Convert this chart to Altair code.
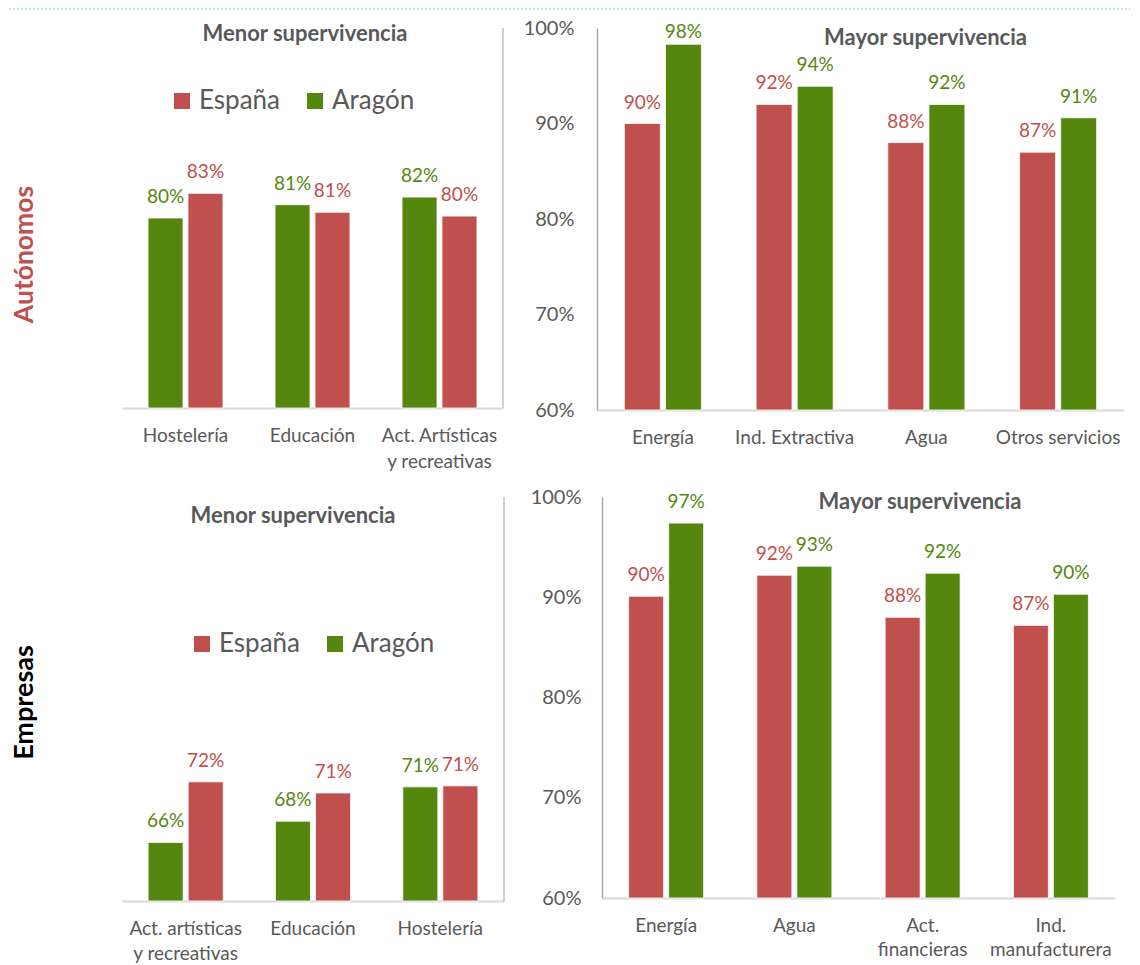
import altair as alt
import pandas as pd

SERIES = ["España", "Aragón"]
SERIES_COLORS = ["#C0504D", "#55870E"]

# Autónomos - menor supervivencia
aut_low_cats = ["Hostelería", "Educación", "Act. Artísticas\ny recreativas"]
aut_low_espana = [82.6, 80.6, 80.2]
aut_low_aragon = [80.0, 81.4, 82.2]

# Autónomos - mayor supervivencia
aut_high_cats = ["Energía", "Ind. Extractiva", "Agua", "Otros servicios"]
aut_high_espana = [90.0, 92.0, 88.0, 87.0]
aut_high_aragon = [98.3, 93.9, 92.0, 90.6]

# Empresas - menor supervivencia
emp_low_cats = ["Act. artísticas\ny recreativas", "Educación", "Hostelería"]
emp_low_espana = [71.8, 70.7, 71.4]
emp_low_aragon = [65.8, 67.9, 71.3]

# Empresas - mayor supervivencia
emp_high_cats = ["Energía", "Agua", "Act.\nfinancieras", "Ind.\nmanufacturera"]
emp_high_espana = [90.1, 92.2, 88.0, 87.2]
emp_high_aragon = [97.4, 93.1, 92.4, 90.3]

Y_TICKS = [60, 70, 80, 90, 100]

FONT = "Lato"
GRAY = "#595959"


def long_df(cats, espana, aragon):
    rows = []
    for c, e, a in zip(cats, espana, aragon):
        rows.append({"cat": c, "serie": "España", "value": e})
        rows.append({"cat": c, "serie": "Aragón", "value": a})
    return pd.DataFrame(rows)


def panel(cats, espana, aragon, order, width, height, pad_inner, title,
          title_dx, title_offset, y_axis, legend, line_height, separator,
          label_cap=100):
    df = long_df(cats, espana, aragon)
    x = alt.X("cat:N", sort=cats, title=None,
              scale=alt.Scale(paddingInner=pad_inner, paddingOuter=pad_inner / 2),
              axis=alt.Axis(labelExpr="split(datum.label, '\\n')", labelAngle=0,
                            labelFont=FONT, labelFontSize=19, labelColor=GRAY,
                            labelPadding=18, labelLineHeight=line_height,
                            labelOverlap=False, labelLimit=300, ticks=False,
                            tickSize=0, domainColor="#D9D9D9", domainWidth=2,
                            grid=False))
    xo = alt.XOffset("serie:N", sort=order,
                     scale=alt.Scale(paddingInner=0.125, paddingOuter=0))
    yscale = alt.Scale(domain=[60, 100], zero=False, nice=False)
    y = alt.Y("value:Q", scale=yscale, axis=y_axis)
    y_lab = alt.Y("ly:Q", scale=yscale, axis=y_axis)
    color = alt.Color("serie:N", scale=alt.Scale(domain=SERIES, range=SERIES_COLORS),
                      legend=legend)
    base = alt.Chart(df)
    bars = base.mark_bar(stroke="white", strokeWidth=0.8).encode(
        x=x, xOffset=xo, y=y, y2=alt.datum(60), color=color)
    labels = base.transform_calculate(
        lbl="format(datum.value, '.0f') + '%'",
        ly=f"min(datum.value, {label_cap})"
    ).mark_text(font=FONT, fontSize=19, dy=-21, baseline="middle").encode(
        x=x, xOffset=xo, y=y_lab, text="lbl:N", color=color)
    layers = [bars, labels]
    if separator:
        sep = alt.Chart(pd.DataFrame({"s": [0]})).mark_rule(
            color="#BFBFBF", strokeWidth=1.5
        ).encode(x=alt.value(width), y=alt.value(0), y2=alt.value(height))
        layers.append(sep)
    return alt.layer(*layers).properties(
        width=width, height=height,
        title=alt.TitleParams(title, font=FONT, fontSize=22, fontWeight="bold",
                              color=GRAY, anchor="middle", frame="group",
                              orient="top", offset=title_offset, dx=title_dx,
                              baseline="middle"))


def left_axis(text, color, tx, ty, size):
    return alt.Axis(labels=False, ticks=False, domain=False, grid=False,
                    title=text, titleX=tx, titleY=ty, titleAngle=270,
                    titleAlign="center", titleBaseline="alphabetic",
                    titleFont=FONT, titleFontSize=size, titleFontWeight="bold",
                    titleColor=color)


def right_axis(pad):
    return alt.Axis(values=Y_TICKS, labelExpr="datum.value + '%'", labelFont=FONT,
                    labelFontSize=20, labelColor=GRAY, labelPadding=pad,
                    ticks=False, tickSize=0, domainColor="#A6A6A6",
                    domainWidth=1.5, grid=False, title=None)


def legend(lx, ly):
    return alt.Legend(orient="none", legendX=lx, legendY=ly, direction="horizontal",
                      title=None, symbolType="square", symbolSize=256,
                      symbolStrokeWidth=0, labelFont=FONT, labelFontSize=26,
                      labelColor=GRAY, labelOffset=4, columnPadding=22, padding=0)


tl = panel(aut_low_cats, aut_low_espana, aut_low_aragon, ["Aragón", "España"],
           381, 380, 0.41, "Menor supervivencia", -7.5, -29,
           left_axis("Autónomos", "#C0504D", -90, 226, 26.5), legend(47, 60), 26, True)
tr = panel(aut_high_cats, aut_high_espana, aut_high_aragon, ["España", "Aragón"],
           527, 382, 0.415, "Mayor supervivencia", 65, -42,
           right_axis(23), None, 26, False, label_cap=97.4)
bl = panel(emp_low_cats, emp_low_espana, emp_low_aragon, ["Aragón", "España"],
           382, 404, 0.41, "Menor supervivencia", -20, -42,
           left_axis("Empresas", "#000000", -90, 205, 27), legend(67, 134), 25, True)
br = panel(emp_high_cats, emp_high_espana, emp_high_aragon, ["España", "Aragón"],
           513, 401, 0.415, "Mayor supervivencia", 61.5, -37,
           right_axis(21), None, 24, False)


def indep(c):
    return c.resolve_scale(x="independent", y="independent", xOffset="independent",
                           color="independent").resolve_legend(color="independent")


row1 = indep(alt.hconcat(tl, tr, spacing=19))
row2 = indep(alt.hconcat(bl, br, spacing=25))
rows = indep(alt.vconcat(row1, row2, spacing=16))

top_line = alt.Chart(pd.DataFrame({"s": [0]})).mark_rule(
    color="#A9DCCB", strokeDash=[2, 2], strokeWidth=1.5
).encode(x=alt.value(-113), x2=alt.value(1008), y=alt.value(0)).properties(
    width=1, height=9)

chart = indep(alt.vconcat(top_line, rows, spacing=0)).properties(
    padding=0, background="white"
).configure(font=FONT).configure_view(stroke=None)

chart.save("out.html", embed_options={"renderer": "svg", "actions": False})
